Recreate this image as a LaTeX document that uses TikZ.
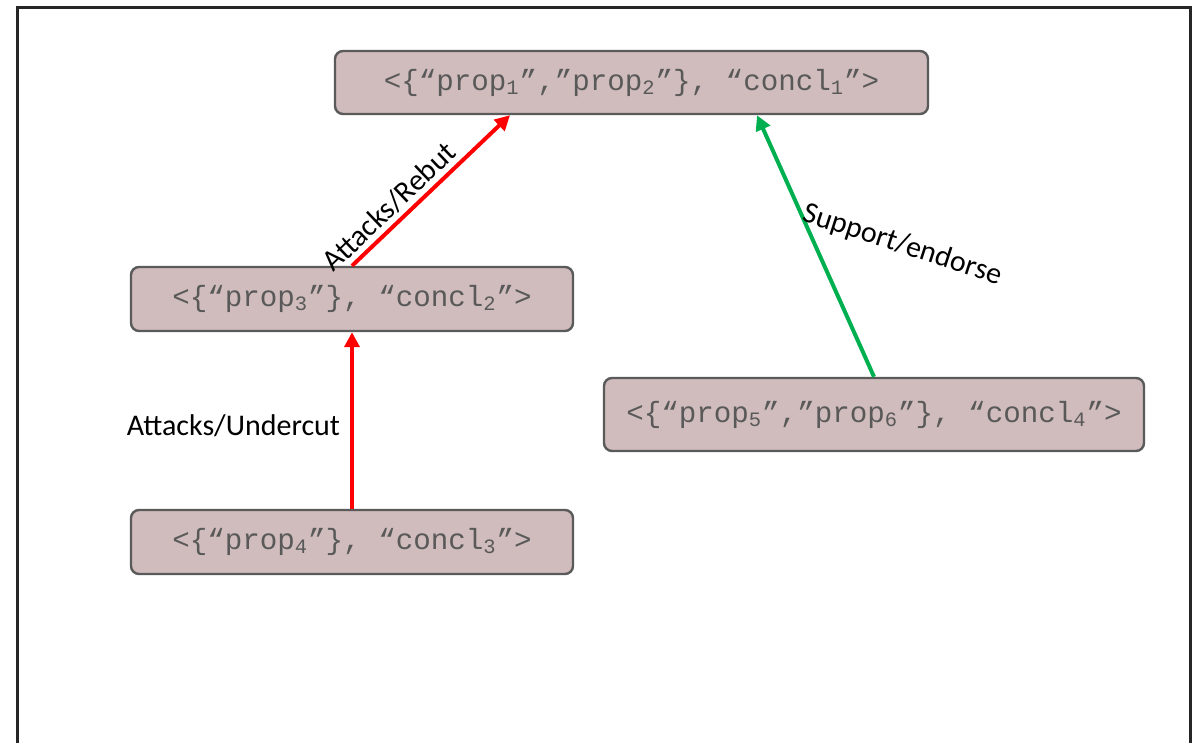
\documentclass[tikz,border=0pt]{standalone}
\usepackage{fontspec}
\setmainfont{Carlito}
\newfontfamily\argfont{Liberation Mono}
\usetikzlibrary{arrows.meta}
\definecolor{argfill}{HTML}{D0BCBC}
\definecolor{argline}{HTML}{5A5A5A}
\definecolor{argtext}{HTML}{595959}
\definecolor{framegray}{HTML}{262626}
\definecolor{attackred}{HTML}{FF0000}
\definecolor{supportgreen}{HTML}{00B050}
\begin{document}
\begin{tikzpicture}[x=0.5pt,y=-0.5pt]
  \tikzstyle{argbox}=[rectangle,rounded corners=4pt,draw=argline,line width=1.2pt,
    fill=argfill,text=argtext,font=\argfont\fontsize{14.6}{17}\selectfont]
  \tikzstyle{attack}=[draw=attackred,line width=2pt,-{Triangle[length=7.5pt,width=7.5pt]}]
  \tikzstyle{support}=[draw=supportgreen,line width=2pt,-{Triangle[length=7.5pt,width=7.5pt]}]
  \tikzstyle{lbl}=[font=\fontsize{15}{17}\selectfont,text=black]
  \useasboundingbox (0,0) rectangle (1199,743);
  % outer frame, runs off the bottom of the page
  \draw[framegray,line width=1.5pt] (17,800) -- (17,8) -- (1190,8) -- (1190,800);
  % arguments
  \node[argbox,minimum width=296.5pt,minimum height=31.5pt] (concla) at (631.5,82.5)
    {<\{“prop\textsubscript{1}”,”prop\textsubscript{2}”\}, “concl\textsubscript{1}”>};
  \node[argbox,minimum width=221pt,minimum height=32pt] (conclb) at (352,299)
    {<\{“prop\textsubscript{3}”\}, “concl\textsubscript{2}”>};
  \node[argbox,minimum width=221pt,minimum height=32pt] (conclc) at (352,542)
    {<\{“prop\textsubscript{4}”\}, “concl\textsubscript{3}”>};
  \node[argbox,minimum width=270pt,minimum height=36.5pt] (concld) at (874,414.5)
    {<\{“prop\textsubscript{5}”,”prop\textsubscript{6}”\}, “concl\textsubscript{4}”>};
  % relations between them
  \draw[attack] (conclb.north) -- ([xshift=-60.75pt]concla.south)
    node[lbl,sloped,above,pos=0.31,inner sep=2pt] {Attacks/Rebut};
  \draw[attack] (conclc.north) -- (conclb.south)
    node[lbl,left,pos=0.47,inner sep=5pt] {Attacks/Undercut};
  \draw[support] (concld.north) -- ([xshift=62.75pt]concla.south)
    node[lbl,rotate=-18,anchor=west,pos=0.63,inner sep=1pt] {Support/endorse};
\end{tikzpicture}
\end{document}
